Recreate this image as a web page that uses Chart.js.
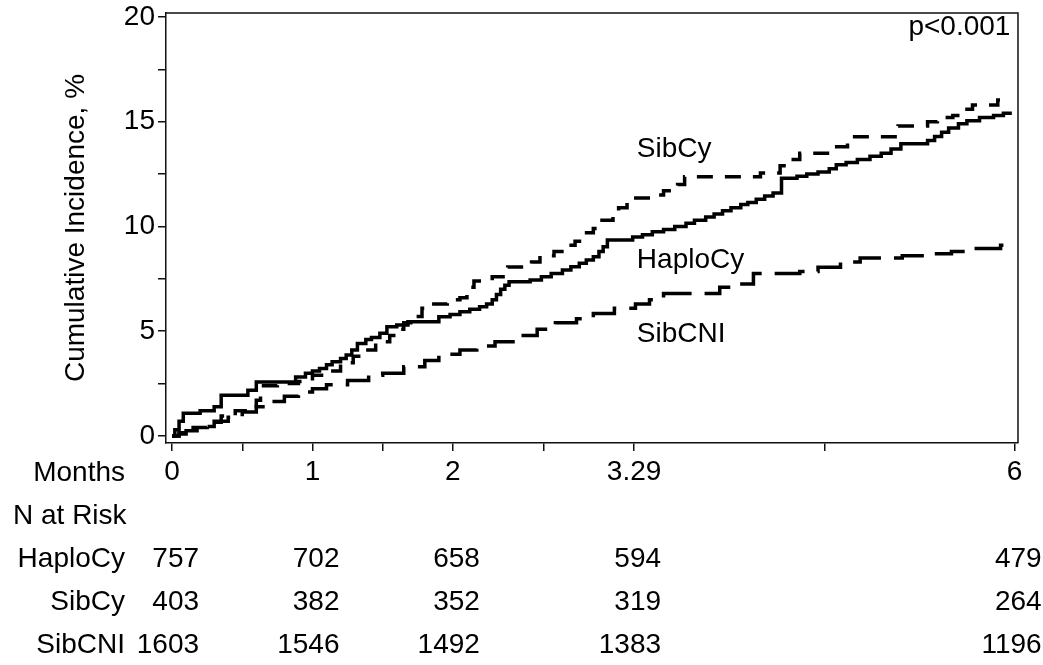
<!DOCTYPE html>
<html>
<head>
<meta charset="utf-8">
<script src="https://cdn.jsdelivr.net/npm/chart.js@4"></script>
<style>
  html, body { margin: 0; padding: 0; background: #fff; }
  #wrap { width: 1043px; height: 665px; }
</style>
</head>
<body>
<div id="wrap"><canvas id="c" width="1043" height="665"></canvas></div>
<script>
// ---------- data ----------
const haploT = [0, 0.02, 0.05, 0.08, 0.2, 0.3, 0.35, 0.54, 0.6, 0.88, 0.95, 1.0, 1.05, 1.1, 1.14, 1.2, 1.24, 1.28, 1.32, 1.38, 1.42, 1.48, 1.53, 1.6, 1.68, 1.9, 1.98, 2.05, 2.12, 2.19, 2.24, 2.28, 2.31, 2.34, 2.37, 2.4, 2.55, 2.63, 2.7, 2.78, 2.84, 2.9, 2.95, 3.0, 3.04, 3.07, 3.1, 3.28, 3.35, 3.42, 3.5, 3.58, 3.66, 3.72, 3.8, 3.86, 3.92, 3.98, 4.05, 4.1, 4.16, 4.22, 4.28, 4.34, 4.45, 4.52, 4.6, 4.68, 4.73, 4.8, 4.88, 4.97, 5.05, 5.12, 5.19, 5.38, 5.43, 5.48, 5.53, 5.6, 5.66, 5.75, 5.85, 5.92, 5.98];
const haploV = [0, 0.3, 0.7, 1.08, 1.2, 1.4, 1.95, 2.18, 2.58, 2.82, 3.0, 3.1, 3.22, 3.4, 3.54, 3.7, 3.86, 4.1, 4.42, 4.6, 4.7, 4.9, 5.21, 5.3, 5.45, 5.69, 5.8, 5.93, 6.05, 6.17, 6.3, 6.5, 6.75, 7.0, 7.2, 7.36, 7.45, 7.6, 7.75, 7.92, 8.08, 8.24, 8.4, 8.56, 8.8, 9.03, 9.35, 9.5, 9.6, 9.75, 9.85, 10.0, 10.15, 10.3, 10.45, 10.6, 10.75, 10.9, 11.05, 11.15, 11.3, 11.45, 11.6, 12.3, 12.4, 12.5, 12.6, 12.75, 12.95, 13.05, 13.2, 13.35, 13.5, 13.7, 13.95, 14.1, 14.3, 14.5, 14.7, 14.9, 15.05, 15.2, 15.3, 15.4, 15.4];

const sibcyT = [0, 0.05, 0.15, 0.25, 0.35, 0.45, 0.55, 0.6, 0.63, 0.75, 0.9, 1.0, 1.1, 1.2, 1.29, 1.38, 1.45, 1.55, 1.6, 1.65, 1.7, 1.78, 1.85, 1.96, 2.05, 2.1, 2.15, 2.28, 2.39, 2.56, 2.62, 2.72, 2.8, 2.87, 2.93, 3.0, 3.04, 3.14, 3.18, 3.24, 3.42, 3.5, 3.6, 3.65, 4.19, 4.33, 4.4, 4.47, 4.69, 4.72, 4.81, 5.17, 5.38, 5.45, 5.56, 5.62, 5.7, 5.88, 5.98];
const sibcyV = [0, 0.15, 0.4, 0.65, 0.95, 1.2, 1.4, 1.7, 2.4, 2.5, 2.6, 2.9, 3.1, 3.5, 3.8, 4.1, 4.5, 4.8, 5.1, 5.4, 5.7, 6.1, 6.3, 6.5, 6.6, 7.1, 7.4, 7.6, 8.06, 8.3, 8.6, 8.8, 9.1, 9.3, 9.7, 9.9, 10.3, 10.5, 10.9, 11.36, 11.5, 11.7, 12.0, 12.37, 12.55, 12.9, 13.2, 13.5, 13.6, 13.8, 14.28, 14.8, 15.0, 15.2, 15.3, 15.6, 15.8, 16.04, 16.04];

const sibcniT = [0, 0.05, 0.1, 0.2, 0.3, 0.4, 0.5, 0.6, 0.7, 0.8, 0.9, 1.0, 1.1, 1.25, 1.4, 1.5, 1.65, 1.8, 1.9, 2.05, 2.17, 2.3, 2.45, 2.6, 2.73, 2.88, 3.0, 3.15, 3.3, 3.4, 3.5, 3.9, 4.02, 4.14, 4.47, 4.6, 4.76, 4.9, 5.2, 5.4, 5.55, 5.7, 5.9, 5.98];
const sibcniV = [0, 0.1, 0.25, 0.45, 0.7, 0.9, 1.15, 1.4, 1.65, 1.9, 2.1, 2.25, 2.45, 2.65, 2.9, 3.0, 3.3, 3.6, 3.9, 4.1, 4.3, 4.5, 4.8, 5.1, 5.4, 5.6, 5.85, 6.1, 6.3, 6.5, 6.8, 7.1, 7.25, 7.75, 7.85, 8.05, 8.3, 8.5, 8.6, 8.7, 8.8, 8.95, 9.1, 9.1];

const xTickValues = [0, 0.5, 1, 1.5, 2, 2.65, 3.29, 4.65, 6];
const xTickLabels = ['0', '', '1', '', '2', '', '3.29', '', '6'];
const yTickValues = [0, 2.5, 5, 7.5, 10, 12.5, 15, 17.5, 20];
const yTickLabels = ['0', '', '5', '', '10', '', '15', '', '20'];

const groupNames = ['HaploCy', 'SibCy', 'SibCNI'];
const riskMonths = [0, 1, 2, 3.29, 6];
const riskHaplo = [757, 702, 658, 594, 479];
const riskSibcy = [403, 382, 352, 319, 264];
const riskSibcni = [1603, 1546, 1492, 1383, 1196];

// ---------- styling ----------
const FONT = '"Liberation Sans", Arial, Helvetica, sans-serif';
const FS = 28;

function pts(T, V) { return T.map((t, i) => ({ x: t, y: V[i] })); }

// In-plot annotations (data-space anchors)
const annotations = [
  { text: 'SibCy', x: 3.31, y: 13.32, align: 'left' },
  { text: 'HaploCy', x: 3.31, y: 8.02, align: 'left' },
  { text: 'SibCNI', x: 3.31, y: 4.48, align: 'left' },
  { text: 'p<0.001', x: 5.97, y: 19.15, align: 'right' }
];

const framePlugin = {
  id: 'frame',
  afterDraw(chart) {
    const { ctx, chartArea: a } = chart;
    ctx.save();
    ctx.strokeStyle = '#111';
    ctx.lineWidth = 1.5;
    ctx.beginPath();
    ctx.moveTo(a.left, a.top);
    ctx.lineTo(a.right, a.top);
    ctx.lineTo(a.right, a.bottom);
    ctx.stroke();
    ctx.restore();
  }
};

const textPlugin = {
  id: 'texts',
  afterDraw(chart) {
    const { ctx } = chart;
    const xs = chart.scales.x, ys = chart.scales.y;
    ctx.save();
    ctx.fillStyle = '#000';
    ctx.font = FS + 'px ' + FONT;
    ctx.textBaseline = 'alphabetic';
    annotations.forEach(a => {
      ctx.textAlign = a.align;
      ctx.fillText(a.text, xs.getPixelForValue(a.x), ys.getPixelForValue(a.y));
    });
    // risk table
    const labelRight = 125;
    const rowBase = [481, 524, 567, 610, 653];
    ctx.textAlign = 'right';
    ctx.fillText('Months', labelRight, rowBase[0]);
    ctx.textAlign = 'left';
    ctx.fillText('N at Risk', 13, rowBase[1]);
    const rows = [riskHaplo, riskSibcy, riskSibcni];
    rows.forEach((r, ri) => {
      ctx.textAlign = 'right';
      ctx.fillText(groupNames[ri], labelRight, rowBase[ri + 2]);
      r.forEach((n, i) => {
        ctx.fillText(String(n), xs.getPixelForValue(riskMonths[i]) + 27, rowBase[ri + 2]);
      });
    });
    ctx.restore();
  }
};

new Chart(document.getElementById('c'), {
  type: 'line',
  data: {
    datasets: [
      { label: groupNames[0], data: pts(haploT, haploV), borderColor: '#000', borderWidth: 3.5, stepped: 'before', pointRadius: 0, fill: false, borderDash: [] },
      { label: groupNames[1], data: pts(sibcyT, sibcyV), borderColor: '#000', borderWidth: 3.5, stepped: 'before', pointRadius: 0, fill: false, borderDash: [16, 12] },
      { label: groupNames[2], data: pts(sibcniT, sibcniV), borderColor: '#000', borderWidth: 3.5, stepped: 'before', pointRadius: 0, fill: false, borderDash: [32, 13] }
    ]
  },
  options: {
    responsive: false,
    animation: false,
    layout: { padding: { left: 0, right: 25, top: 13, bottom: 162 } },
    plugins: { legend: { display: false }, tooltip: { enabled: false } },
    scales: {
      x: {
        type: 'linear', min: -0.043, max: 6.024,
        afterBuildTicks: s => { s.ticks = xTickValues.map(v => ({ value: v })); },
        afterFit: s => { s.height = 60; s.paddingLeft = 0; s.paddingRight = 0; },
        ticks: {
          autoSkip: false, maxRotation: 0, padding: 4, color: '#000',
          font: { family: FONT, size: FS },
          callback: (v, i) => xTickLabels[i]
        },
        grid: { drawOnChartArea: false, drawTicks: true, tickLength: 8, color: '#111', lineWidth: 1.5 },
        border: { display: true, color: '#111', width: 1.5 }
      },
      y: {
        min: -0.335, max: 20.19,
        afterBuildTicks: s => { s.ticks = yTickValues.map(v => ({ value: v })); },
        afterFit: s => { s.width = 166; s.paddingTop = 0; s.paddingBottom = 0; },
        ticks: {
          autoSkip: false, padding: 3, color: '#000',
          font: { family: FONT, size: FS },
          callback: (v, i) => yTickLabels[i]
        },
        grid: { drawOnChartArea: false, drawTicks: true, tickLength: 8, color: '#111', lineWidth: 1.5 },
        border: { display: true, color: '#111', width: 1.5 },
        title: {
          display: true, text: 'Cumulative Incidence, %', color: '#000',
          font: { family: FONT, size: FS }, padding: { top: 59, bottom: 0 }
        }
      }
    }
  },
  plugins: [framePlugin, textPlugin]
});
</script>
</body>
</html>
